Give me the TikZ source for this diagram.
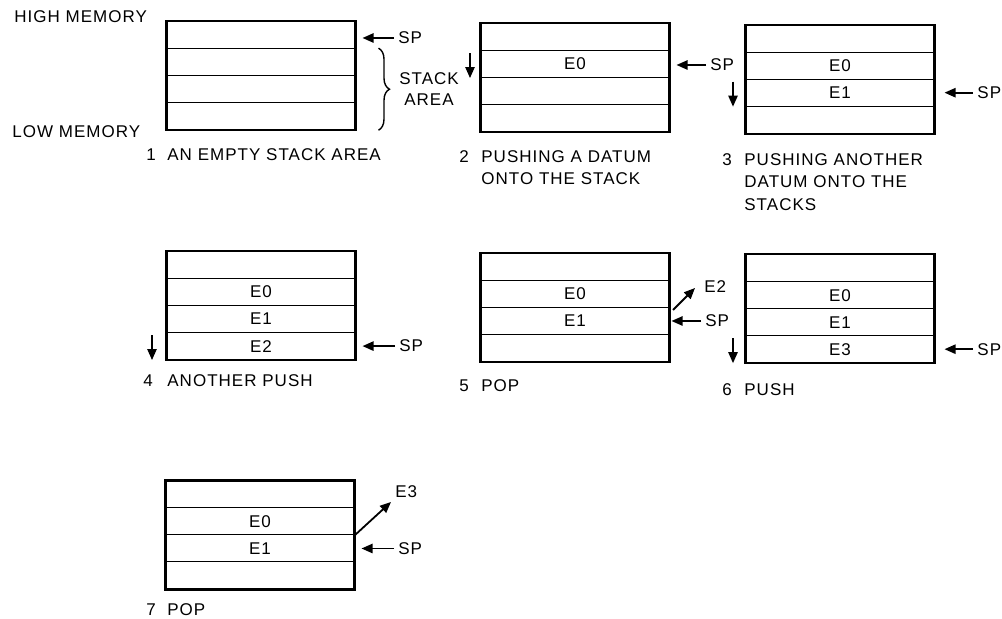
\documentclass[tikz,border=0pt]{standalone}
\usepackage{fontspec}
\setmainfont{Liberation Sans}[LetterSpace=6.0]
\usetikzlibrary{arrows.meta,calc,decorations.pathreplacing}

\tikzset{
  cell/.style={draw, line width=0.5pt, minimum width=94pt, minimum height=13.5pt, inner sep=0pt},
  frame/.style={line width=1.1pt},
  ptr/.style={line width=0.9pt, -{Triangle[length=5.5pt,width=4.6pt]}},
  lbl/.style={inner sep=2pt, anchor=west},
  captext/.style={inner sep=0pt, anchor=north west, align=left},
}

\begin{document}
\begin{tikzpicture}[x=0.5pt, y=-0.5pt, every node/.style={font=\fontsize{8.5}{11.25}\selectfont}]
\useasboundingbox (0,0) rectangle (1002,619);

% ======================================================================
% ROW 1 : EMPTY STACK, FIRST PUSH, SECOND PUSH
% ======================================================================
\node[lbl, inner sep=0pt] (high) at (14,16.5) {HIGH MEMORY};
\node[lbl, inner sep=0pt] (low)  at (12,132)  {LOW MEMORY};

% ---- 1 : empty stack area ----
\foreach \r in {1,...,4}
  \node[cell] (s1r\r) at (261,{35.2+27*(\r-1)}) {};
\draw[frame] (s1r1.north west) rectangle (s1r4.south east);
\node[lbl] (sp1) at (394,38) {SP};
\draw[ptr, shorten >=3.5pt] (sp1.west) -- (sp1.west -| s1r1.east);
\draw[line width=0.7pt, decorate, decoration={brace, amplitude=5.5pt}]
  ([xshift=11.5pt]s1r2.north east) -- ([xshift=11.5pt]s1r4.south east);
\node[align=center, inner sep=0pt] (area) at (429,89) {STACK\\[-1pt]AREA};
\node[captext] (num1) at (146,148) {1};
\node[captext] (cap1) at (167,148) {AN EMPTY STACK AREA};

% ---- 2 : pushing a datum ----
\foreach \r/\t in {1/{},2/E0,3/{},4/{}}
  \node[cell] (s2r\r) at (575,{37.1+27*(\r-1)}) {\t};
\draw[frame] (s2r1.north west) rectangle (s2r4.south east);
\node[lbl] (sp2) at (706,65) {SP};
\draw[ptr, shorten >=3.5pt] (sp2.west) -- (sp2.west -| s2r2.east);
\draw[ptr] ([xshift=-5.25pt,yshift=-1.5pt]s2r2.north west) -- ([xshift=-5.25pt]s2r2.south west);
\node[captext] (num2) at (459,150) {2};
\node[captext] (cap2) at (481,150) {PUSHING A DATUM\\ONTO THE STACK};

% ---- 3 : pushing another datum ----
\foreach \r/\t in {1/{},2/E0,3/E1,4/{}}
  \node[cell] (s3r\r) at (840,{38.7+27*(\r-1)}) {\t};
\draw[frame] (s3r1.north west) rectangle (s3r4.south east);
\node[lbl] (sp3) at (973,92.7) {SP};
\draw[ptr, shorten >=5pt] (sp3.west) -- (sp3.west -| s3r3.east);
\draw[ptr] ([xshift=-6.25pt,yshift=-1.5pt]s3r3.north west) -- ([xshift=-6.25pt]s3r3.south west);
\node[captext] (num3) at (722,153) {3};
\node[captext] (cap3) at (744,153) {PUSHING ANOTHER\\DATUM ONTO THE\\STACKS};

% ======================================================================
% ROW 2 : ANOTHER PUSH, POP, PUSH
% ======================================================================
% ---- 4 : another push ----
\foreach \r/\t in {1/{},2/E0,3/E1,4/E2}
  \node[cell] (s4r\r) at (261,{265.1+27*(\r-1)}) {\t};
\draw[frame] (s4r1.north west) rectangle (s4r4.south east);
\node[lbl] (sp4) at (395,346.1) {SP};
\draw[ptr, shorten >=3.5pt] (sp4.west) -- (sp4.west -| s4r4.east);
\draw[ptr] ([xshift=-7.25pt,yshift=-1.5pt]s4r4.north west) -- ([xshift=-7.25pt]s4r4.south west);
\node[captext] (num4) at (143,374) {4};
\node[captext] (cap4) at (167,374) {ANOTHER PUSH};

% ---- 5 : pop ----
\foreach \r/\t in {1/{},2/E0,3/E1,4/{}}
  \node[cell] (s5r\r) at (575,{267+27*(\r-1)}) {\t};
\draw[frame] (s5r1.north west) rectangle (s5r4.south east);
\node[lbl] (sp5) at (701,321) {SP};
\draw[ptr, shorten >=1pt] (sp5.west) -- (sp5.west -| s5r3.east);
\coordinate (pop5a) at (673,310);
\coordinate (pop5b) at (695,288);
\draw[ptr] (pop5a) -- (pop5b);
\node[lbl] (out5) at (700,287) {E2};
\node[captext] (num5) at (459,379) {5};
\node[captext] (cap5) at (481,379) {POP};

% ---- 6 : push ----
\foreach \r/\t in {1/{},2/E0,3/E1,4/E3}
  \node[cell] (s6r\r) at (840,{268.2+27*(\r-1)}) {\t};
\draw[frame] (s6r1.north west) rectangle (s6r4.south east);
\node[lbl] (sp6) at (973,349.2) {SP};
\draw[ptr, shorten >=5pt] (sp6.west) -- (sp6.west -| s6r4.east);
\draw[ptr] ([xshift=-6.25pt,yshift=-1.5pt]s6r4.north west) -- ([xshift=-6.25pt]s6r4.south west);
\node[captext] (num6) at (722,383) {6};
\node[captext] (cap6) at (744,383) {PUSH};

% ======================================================================
% ROW 3 : POP AGAIN
% ======================================================================
\foreach \r/\t in {1/{},2/E0,3/E1,4/{}}
  \node[cell] (s7r\r) at (260,{494.5+27*(\r-1)}) {\t};
\draw[frame] (s7r1.north west) rectangle (s7r4.south east);
\node[lbl] (sp7) at (394,548.5) {SP};
\draw[ptr, shorten >=3.5pt] (sp7.west) -- (sp7.west -| s7r3.east);
\coordinate (pop7b) at (391,502);
\draw[ptr] (s7r2.south east) -- (pop7b);
\node[lbl] (out7) at (391,492) {E3};
\node[captext] (num7) at (146,603) {7};
\node[captext] (cap7) at (167,603) {POP};

\end{tikzpicture}
\end{document}
